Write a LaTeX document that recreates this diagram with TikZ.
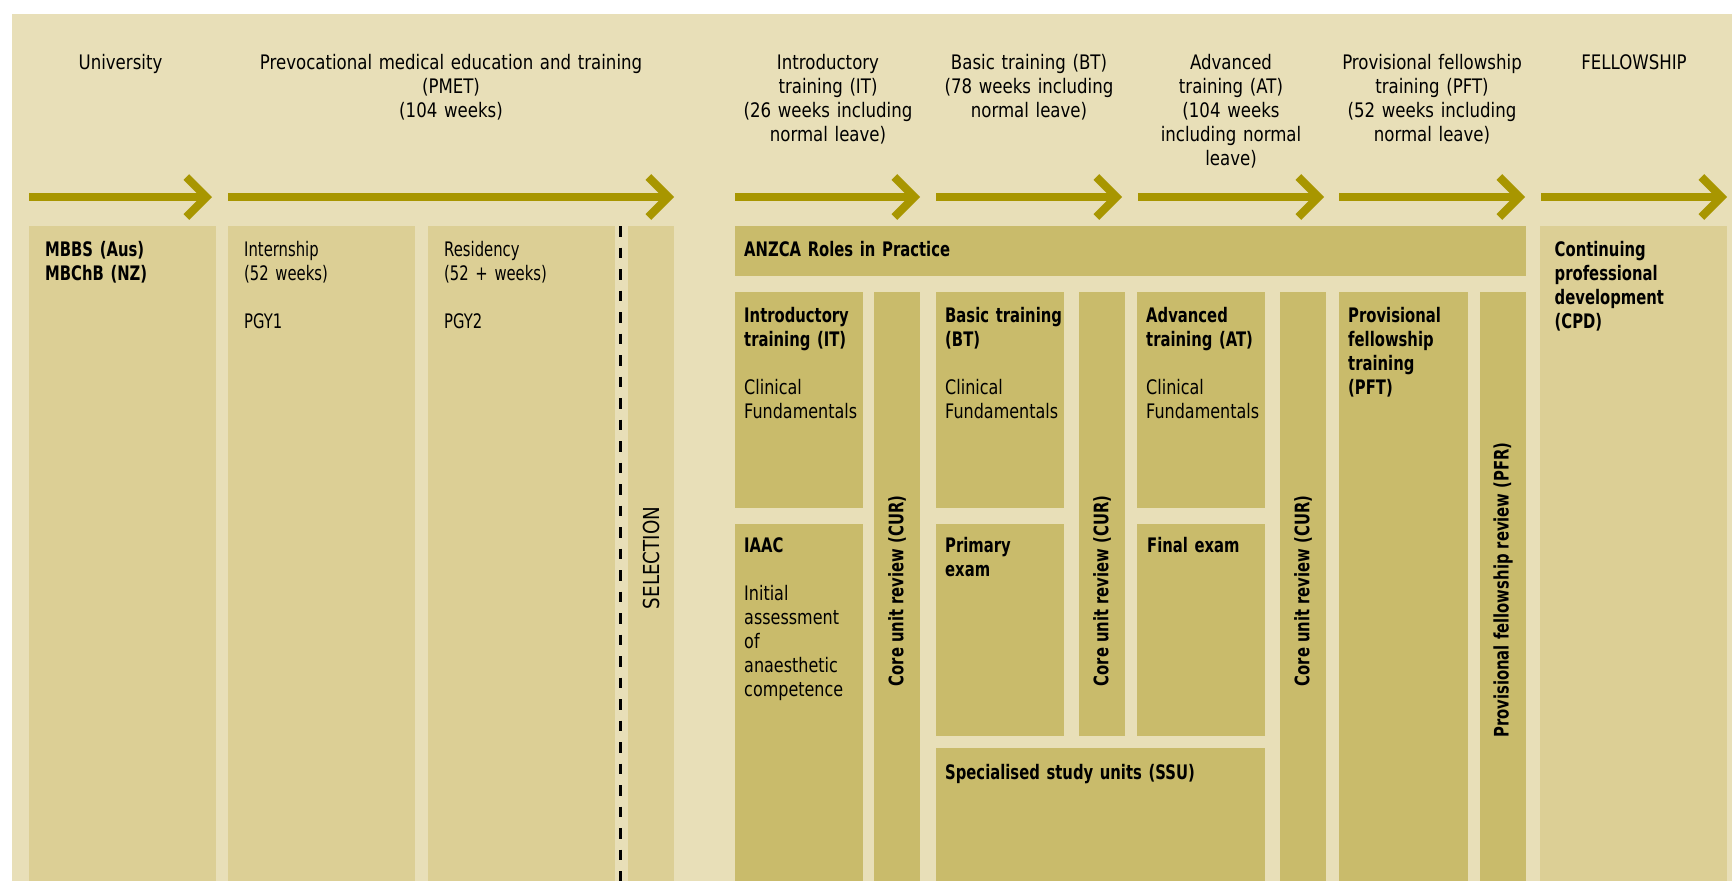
\documentclass[tikz,border=0pt]{standalone}
\usepackage{fontspec}
\setmainfont{DejaVu Sans}[FakeStretch=0.8]
\newfontfamily\hdfont{DejaVu Sans}[FakeStretch=0.83]
\newfontfamily\nrfont{DejaVu Sans}[FakeStretch=0.74]
\usetikzlibrary{arrows.meta}
\definecolor{pagebg}{HTML}{E8DFB8}
\definecolor{boxlight}{HTML}{DCCF95}
\definecolor{boxdark}{HTML}{C9BB6B}
\definecolor{arrowol}{HTML}{A89600}
\newcommand{\bhd}[1]{{\nrfont\bfseries #1}}

\begin{document}
\begin{tikzpicture}[x=1pt, y=-1pt,
  lbox/.style={fill=boxlight,inner sep=0,outer sep=0,anchor=north west},
  dbox/.style={fill=boxdark,inner sep=0,outer sep=0,anchor=north west},
  head/.style={font=\hdfont\fontsize{20}{24}\selectfont,align=center,text width=240pt,inner sep=0,anchor=north},
  txt/.style={font=\fontsize{20}{24}\selectfont,align=left,text width=330pt,inner sep=0,anchor=north west},
  txtn/.style={txt,font=\nrfont\fontsize{20}{24}\selectfont},
  vtxt/.style={font=\nrfont\bfseries\fontsize{20}{24}\selectfont,rotate=90,inner sep=0},
  phase/.style={line width=8pt,arrowol,-{Straight Barb[length=20pt,width=40pt]}}]
  \useasboundingbox (0,0) rectangle (1732,881);
  \fill[white] (0,0) rectangle (1732,881);
  \fill[pagebg] (12,14) rectangle (1732,881);
  % stage headings
  \node[head] (hUni) at (120.5,52) {\strut University};
  \node[head,text width=440pt] (hPmet) at (451,52) {\strut Prevocational medical education and training\\(PMET)\\(104 weeks)};
  \node[head] (hIT) at (828,52) {\strut Introductory\\training (IT)\\(26 weeks including\\normal leave)};
  \node[head] (hBT) at (1029,52) {\strut Basic training (BT)\\(78 weeks including\\normal leave)};
  \node[head] (hAT) at (1231,52) {\strut Advanced\\training (AT)\\(104 weeks\\including normal\\leave)};
  \node[head] (hPFT) at (1432,52) {\strut Provisional fellowship\\training (PFT)\\(52 weeks including\\normal leave)};
  \node[head] (hFel) at (1634,52) {\strut FELLOWSHIP};
  % time line
  \draw[phase] (29,197) -- (212,197); \draw[phase] (228,197) -- (674,197);
  \draw[phase] (735,197) -- (920,197); \draw[phase] (936,197) -- (1122,197);
  \draw[phase] (1138,197) -- (1324,197); \draw[phase] (1339,197) -- (1525,197);
  \draw[phase] (1541,197) -- (1727,197);
  % university and PMET
  \node[lbox,minimum width=187,minimum height=655] (mbbs) at (29,226) {};
  \node[lbox,minimum width=187,minimum height=655] (intern) at (228,226) {};
  \node[lbox,minimum width=187,minimum height=655] (resid) at (428,226) {};
  \node[lbox,minimum width=46,minimum height=655] (sel) at (628,226) {};
  \draw[line width=3pt,dash pattern=on 10.5pt off 11pt] ([xshift=5.5]resid.north east) -- ([xshift=5.5]resid.south east);
  \node[txt] (mbbsT) at ([shift={(16,13)}]mbbs.north west) {\strut\bhd{MBBS (Aus)\\MBChB (NZ)}};
  \node[txtn] (internT) at ([shift={(16,13)}]intern.north west) {\strut Internship\\(52 weeks)\\[24pt]PGY1};
  \node[txtn] (residT) at ([shift={(16,13)}]resid.north west) {\strut Residency\\(52 + weeks)\\[24pt]PGY2};
  \node[vtxt,font=\hdfont\fontsize{22}{26}\selectfont] (selT) at (sel.north |- 0,558) {SELECTION};
  % ANZCA training
  \node[dbox,minimum width=791,minimum height=50] (anzca) at (735,226) {};
  \node[txt] (anzcaT) at ([shift={(9,13)}]anzca.north west) {\strut\bhd{ANZCA Roles in Practice}};
  \node[dbox,minimum width=128,minimum height=215.6] (it) at (735,292) {};
  \node[dbox,minimum width=128,minimum height=357.4] (iaac) at (735,523.6) {};
  \node[dbox,minimum width=46,minimum height=589] (cur1) at (874,292) {};
  \node[txt] (itT) at ([shift={(9,13)}]it.north west) {\strut\bhd{Introductory\\training (IT)}\\[24pt]Clinical\\Fundamentals};
  \node[txt] (iaacT) at ([shift={(9,12)}]iaac.north west) {\strut\bhd{IAAC}\\[24pt]Initial\\assessment\\of\\anaesthetic\\competence};
  \node[vtxt] (cur1T) at (cur1.north |- 0,591) {Core unit review (CUR)};
  \node[dbox,minimum width=128,minimum height=215.6] (bt) at (936,292) {};
  \node[dbox,minimum width=128,minimum height=212] (prim) at (936,523.6) {};
  \node[dbox,minimum width=46,minimum height=443.6] (cur2) at (1079,292) {};
  \node[dbox,minimum width=329,minimum height=133] (ssu) at (936,748) {};
  \node[txt] (btT) at ([shift={(9,13)}]bt.north west) {\strut\bhd{Basic training\\(BT)}\\[24pt]Clinical\\Fundamentals};
  \node[txt] (primT) at ([shift={(9,12)}]prim.north west) {\strut\bhd{Primary\\exam}};
  \node[txt] (ssuT) at ([shift={(9,14)}]ssu.north west) {\strut\bhd{Specialised study units (SSU)}};
  \node[vtxt] (cur2T) at (cur2.north |- 0,591) {Core unit review (CUR)};
  \node[dbox,minimum width=128,minimum height=215.6] (at) at (1137,292) {};
  \node[dbox,minimum width=128,minimum height=212] (fin) at (1137,523.6) {};
  \node[dbox,minimum width=46,minimum height=589] (cur3) at (1280,292) {};
  \node[txt] (atT) at ([shift={(9,13)}]at.north west) {\strut\bhd{Advanced\\training (AT)}\\[24pt]Clinical\\Fundamentals};
  \node[txt] (finT) at ([shift={(10,12)}]fin.north west) {\strut\bhd{Final exam}};
  \node[vtxt] (cur3T) at (cur3.north |- 0,591) {Core unit review (CUR)};
  \node[dbox,minimum width=129,minimum height=589] (pft) at (1339,292) {};
  \node[dbox,minimum width=46,minimum height=589] (pfr) at (1480,292) {};
  \node[txt] (pftT) at ([shift={(9,13)}]pft.north west) {\strut\bhd{Provisional\\fellowship\\training\\(PFT)}};
  \node[vtxt] (pfrT) at (pfr.north |- 0,590) {Provisional fellowship review (PFR)};
  % fellowship
  \node[lbox,minimum width=187,minimum height=655] (cpd) at (1540,226) {};
  \node[txt] (cpdT) at ([shift={(14.5,13)}]cpd.north west) {\strut\bhd{Continuing\\professional\\development\\(CPD)}};
\end{tikzpicture}
\end{document}
